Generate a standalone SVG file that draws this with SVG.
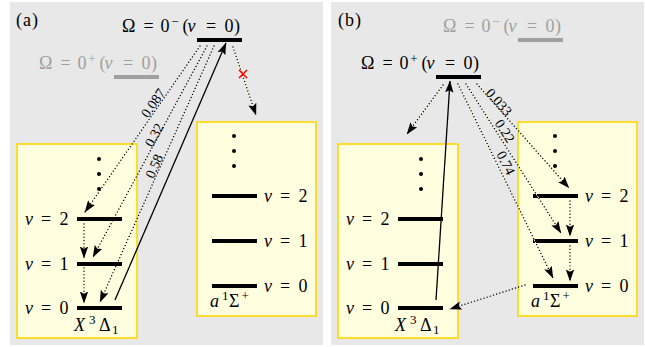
<svg xmlns="http://www.w3.org/2000/svg" width="645" height="347" viewBox="0 0 645 347">
<style>
.bg{fill:#e8e8e8}
.box{fill:#ffffe0;stroke:#ffd700;stroke-width:1.6}
.bar{stroke:#000;stroke-width:4}
.gbar{stroke:#a0a0a0;stroke-width:4}
.t{font-family:"Liberation Serif",serif;font-size:18px;fill:#000}
.g{fill:#a0a0a0}
.it{font-style:italic}
.num{font-family:"Liberation Serif",serif;font-size:14px;fill:#000;text-anchor:middle}
.dot{fill:#000}
.dl{fill:none;stroke:#000;stroke-width:1.4;stroke-dasharray:0.01 3.3;stroke-linecap:round}
.halo{fill:none;stroke:#ffffe0;stroke-width:1}
.sl{fill:none;stroke:#000;stroke-width:1.3}
.arr{marker-end:url(#ah)}
</style>
<defs>
<marker id="ah" markerUnits="userSpaceOnUse" markerWidth="12" markerHeight="10" viewBox="0 0 12 10" refX="11.5" refY="5" orient="auto">
<path d="M0,0.8 L12,5 L0,9.2 L2.2,5 Z" fill="#000" stroke="none"/>
</marker>
</defs>

<!-- Panel (a) -->
<rect class="bg" x="10" y="2" width="313" height="343"/>
<text class="t" x="16" y="26" font-size="20" letter-spacing="1">(a)</text>

<g id="a-omega-minus">
<text class="t" y="32"><tspan x="122">Ω</tspan><tspan x="143.4">=</tspan><tspan x="160.5">0</tspan><tspan x="171.3" y="25.5" font-size="13">−</tspan><tspan x="182.5" y="32">(</tspan><tspan x="187.5" class="it">v</tspan><tspan x="205.9">=</tspan><tspan x="224.5">0</tspan><tspan x="234">)</tspan></text>
<line class="bar" x1="197" y1="40" x2="242" y2="40"/>
</g>

<g id="a-omega-plus">
<text class="t g" y="69"><tspan x="39">Ω</tspan><tspan x="60.4">=</tspan><tspan x="77.5">0</tspan><tspan x="88.3" y="62.5" font-size="13">+</tspan><tspan x="99.5" y="69">(</tspan><tspan x="104.5" class="it">v</tspan><tspan x="122.9">=</tspan><tspan x="141.5">0</tspan><tspan x="151">)</tspan></text>
<line class="gbar" x1="114" y1="77" x2="159" y2="77"/>
</g>

<g id="a-X-state">
<rect class="box" x="17" y="144" width="120" height="194"/>
<circle class="dot" cx="99" cy="159" r="2"/>
<circle class="dot" cx="99" cy="174" r="2"/>
<circle class="dot" cx="99" cy="189" r="2"/>
<line class="bar" x1="77" y1="219" x2="122" y2="219"/>
<line class="bar" x1="77" y1="264" x2="122" y2="264"/>
<line class="bar" x1="77" y1="308" x2="122" y2="308"/>
<text class="t" y="225"><tspan x="25" class="it">v</tspan><tspan x="40.9">=</tspan><tspan x="59.5">2</tspan></text>
<text class="t" y="270"><tspan x="25" class="it">v</tspan><tspan x="40.9">=</tspan><tspan x="59.5">1</tspan></text>
<text class="t" y="314"><tspan x="25" class="it">v</tspan><tspan x="40.9">=</tspan><tspan x="59.5">0</tspan></text>
<text class="t" y="331"><tspan x="74" class="it">X</tspan><tspan x="89" y="324" font-size="13">3</tspan><tspan x="99" y="331">Δ</tspan><tspan x="112" y="334" font-size="13">1</tspan></text>
</g>

<g id="a-a-state">
<rect class="box" x="197" y="122" width="119" height="194"/>
<circle class="dot" cx="234" cy="136" r="2"/>
<circle class="dot" cx="234" cy="151" r="2"/>
<circle class="dot" cx="234" cy="166" r="2"/>
<line class="bar" x1="212" y1="196" x2="257" y2="196"/>
<line class="bar" x1="212" y1="241" x2="257" y2="241"/>
<line class="bar" x1="212" y1="286" x2="257" y2="286"/>
<text class="t" y="202"><tspan x="264" class="it">v</tspan><tspan x="279.9">=</tspan><tspan x="298.5">2</tspan></text>
<text class="t" y="247"><tspan x="264" class="it">v</tspan><tspan x="279.9">=</tspan><tspan x="298.5">1</tspan></text>
<text class="t" y="292"><tspan x="264" class="it">v</tspan><tspan x="279.9">=</tspan><tspan x="298.5">0</tspan></text>
<text class="t" y="307"><tspan x="210" class="it">a</tspan><tspan x="222" y="300" font-size="13">1</tspan><tspan x="229" y="307">Σ</tspan><tspan x="241.5" y="300" font-size="13">+</tspan></text>
</g>

<g id="a-connectors">
<line class="sl arr" x1="115" y1="300" x2="226" y2="43"/>
<line class="dl arr" x1="200" y1="46" x2="85" y2="212"/>
<line class="dl arr" x1="207" y1="46" x2="93" y2="257"/>
<line class="dl arr" x1="214" y1="46" x2="100" y2="302"/>
<line class="dl arr" x1="84" y1="224" x2="84" y2="258"/>
<line class="dl arr" x1="84" y1="268" x2="84" y2="303"/>
<line class="halo" x1="233" y1="47" x2="254" y2="109"/>
<line class="dl arr" x1="233" y1="47" x2="256" y2="115"/>
<g stroke="#ff0000" stroke-width="1.6"><line x1="239" y1="70" x2="247" y2="78"/><line x1="247" y1="70" x2="239" y2="78"/></g>
<text class="num" transform="translate(153,103) rotate(-55.3)" y="4.8">0.087</text>
<text class="num" transform="translate(154,135) rotate(-61.6)" y="4.8">0.32</text>
<text class="num" transform="translate(154,166) rotate(-66)" y="4.8">0.58</text>
</g>

<!-- Panel (b) -->
<rect class="bg" x="331" y="2" width="313" height="343"/>
<text class="t" x="338" y="26" font-size="20" letter-spacing="1">(b)</text>

<g id="b-omega-minus">
<text class="t g" y="32"><tspan x="443">Ω</tspan><tspan x="464.4">=</tspan><tspan x="481.5">0</tspan><tspan x="492.3" y="25.5" font-size="13">−</tspan><tspan x="503.5" y="32">(</tspan><tspan x="508.5" class="it">v</tspan><tspan x="526.9">=</tspan><tspan x="545.5">0</tspan><tspan x="555">)</tspan></text>
<line class="gbar" x1="518" y1="40" x2="563" y2="40"/>
</g>

<g id="b-omega-plus">
<text class="t" y="69"><tspan x="361">Ω</tspan><tspan x="382.4">=</tspan><tspan x="399.5">0</tspan><tspan x="410.3" y="62.5" font-size="13">+</tspan><tspan x="421.5" y="69">(</tspan><tspan x="426.5" class="it">v</tspan><tspan x="444.9">=</tspan><tspan x="463.5">0</tspan><tspan x="473">)</tspan></text>
<line class="bar" x1="436" y1="77" x2="481" y2="77"/>
</g>

<g id="b-X-state">
<rect class="box" x="338" y="144" width="120" height="194"/>
<circle class="dot" cx="421" cy="159" r="2"/>
<circle class="dot" cx="421" cy="174" r="2"/>
<circle class="dot" cx="421" cy="189" r="2"/>
<line class="bar" x1="398" y1="219" x2="443" y2="219"/>
<line class="bar" x1="398" y1="264" x2="443" y2="264"/>
<line class="bar" x1="398" y1="308" x2="443" y2="308"/>
<text class="t" y="225"><tspan x="346" class="it">v</tspan><tspan x="361.9">=</tspan><tspan x="380.5">2</tspan></text>
<text class="t" y="270"><tspan x="346" class="it">v</tspan><tspan x="361.9">=</tspan><tspan x="380.5">1</tspan></text>
<text class="t" y="314"><tspan x="346" class="it">v</tspan><tspan x="361.9">=</tspan><tspan x="380.5">0</tspan></text>
<text class="t" y="331"><tspan x="395" class="it">X</tspan><tspan x="410" y="324" font-size="13">3</tspan><tspan x="420" y="331">Δ</tspan><tspan x="433" y="334" font-size="13">1</tspan></text>
</g>

<g id="b-a-state">
<rect class="box" x="518" y="122" width="119" height="194"/>
<circle class="dot" cx="555" cy="136" r="2"/>
<circle class="dot" cx="555" cy="151" r="2"/>
<circle class="dot" cx="555" cy="166" r="2"/>
<line class="bar" x1="533" y1="196" x2="578" y2="196"/>
<line class="bar" x1="533" y1="241" x2="578" y2="241"/>
<line class="bar" x1="533" y1="286" x2="578" y2="286"/>
<text class="t" y="202"><tspan x="585" class="it">v</tspan><tspan x="600.9">=</tspan><tspan x="619.5">2</tspan></text>
<text class="t" y="247"><tspan x="585" class="it">v</tspan><tspan x="600.9">=</tspan><tspan x="619.5">1</tspan></text>
<text class="t" y="292"><tspan x="585" class="it">v</tspan><tspan x="600.9">=</tspan><tspan x="619.5">0</tspan></text>
<text class="t" y="307"><tspan x="531" class="it">a</tspan><tspan x="543" y="300" font-size="13">1</tspan><tspan x="550" y="307">Σ</tspan><tspan x="562.5" y="300" font-size="13">+</tspan></text>
</g>

<g id="b-connectors">
<line class="sl arr" x1="436" y1="300" x2="450" y2="81"/>
<line class="halo" x1="443" y1="85" x2="410" y2="130"/>
<line class="dl arr" x1="443" y1="85" x2="407" y2="134"/>
<line class="halo" x1="477" y1="84" x2="563" y2="181"/>
<line class="dl arr" x1="477" y1="84" x2="569" y2="188"/>
<line class="halo" x1="466" y1="84" x2="556" y2="225"/>
<line class="dl arr" x1="466" y1="84" x2="561" y2="233"/>
<line class="halo" x1="458" y1="84" x2="549" y2="270"/>
<line class="dl arr" x1="458" y1="84" x2="553" y2="278"/>
<line class="dl arr" x1="570" y1="201" x2="570" y2="236"/>
<line class="dl arr" x1="570" y1="246" x2="570" y2="281"/>
<line class="dl arr" x1="525" y1="285" x2="450" y2="309"/>
<text class="num" transform="translate(499,102) rotate(48.5)" y="4.8">0.033</text>
<text class="num" transform="translate(505,131) rotate(57.5)" y="4.8">0.22</text>
<text class="num" transform="translate(506,163) rotate(63.9)" y="4.8">0.74</text>
</g>
</svg>
